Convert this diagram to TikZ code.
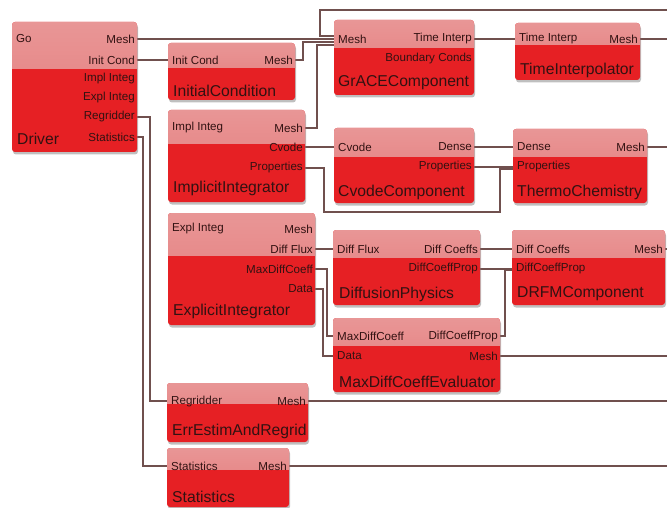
\documentclass[tikz,border=0pt]{standalone}
\usepackage{fontspec}
\setmainfont{Liberation Sans}
\usepackage{xcolor}
\usepackage{tikz}
\usetikzlibrary{positioning,shadows,backgrounds}

\definecolor{boxred}{RGB}{230,32,36}
\definecolor{pinktop}{RGB}{232,150,150}
\definecolor{pinkmid}{RGB}{246,204,204}
\definecolor{pinkbot}{RGB}{230,120,120}
\definecolor{ink}{RGB}{50,18,18}
\definecolor{wirecol}{RGB}{112,80,78}

\begin{document}
\begin{tikzpicture}[x=1pt, y=-1pt,
  box/.style={anchor=north west, inner sep=0pt, outer sep=0pt, fill=boxred, rounded corners=3pt,
    drop shadow={shadow xshift=1pt, shadow yshift=-2.5pt, opacity=0.5},
    path picture={\shade[sharp corners, top color=pinktop, middle color=pinkmid, bottom color=pinkbot]
      (path picture bounding box.north west) rectangle ([yshift=-#1]path picture bounding box.north east);}},
  port/.style={font=\fontsize{11.6}{13}\selectfont, text=ink, inner sep=2pt},
  portl/.style={port, anchor=west},
  portr/.style={port, anchor=east},
  title/.style={font=\fontsize{15.7}{18}\selectfont, text=ink, anchor=west, inner sep=0pt},
  wire/.style={draw=wirecol, line width=1.3pt}]
\useasboundingbox (0,0) rectangle (667,508);

% components
\node[box=47pt, minimum width=125pt, minimum height=130pt] (drv) at (12,22) {};
\node[box=25pt, minimum width=127pt, minimum height=57pt] (ic) at (168,43) {};
\node[box=34pt, minimum width=137pt, minimum height=92pt] (ii) at (168,110) {};
\node[box=28pt, minimum width=140pt, minimum height=75pt] (grace) at (334,20) {};
\node[box=22pt, minimum width=125pt, minimum height=57pt] (ti) at (515,23) {};
\node[box=29pt, minimum width=140pt, minimum height=75pt] (cc) at (334,128) {};
\node[box=28pt, minimum width=134pt, minimum height=74pt] (tc) at (513,129) {};
\node[box=42pt, minimum width=147pt, minimum height=112pt] (ei) at (168,213) {};
\node[box=27pt, minimum width=147pt, minimum height=75pt] (dp) at (333,230) {};
\node[box=27pt, minimum width=167pt, minimum height=74pt] (mde) at (333,318) {};
\node[box=27pt, minimum width=153pt, minimum height=75pt] (drfm) at (512,230) {};
\node[box=20pt, minimum width=141pt, minimum height=59pt] (ee) at (167,383) {};
\node[box=21pt, minimum width=122pt, minimum height=59pt] (st) at (167,448) {};

% Driver
\node[portl] (drv-go) at (14,39) {Go};
\node[portr] (drv-mesh) at (137,39) {Mesh};
\node[portr] (drv-ic) at (137,60) {Init Cond};
\node[portr] (drv-ii) at (137,79) {Impl Integ};
\node[portr] (drv-ei) at (137,98) {Expl Integ};
\node[portr] (drv-regr) at (137,117) {Regridder};
\node[portr] (drv-stat) at (137,137) {Statistics};
\node[title] (drv-t) at (17,139) {Driver};

% InitialCondition
\node[portl] (ic-ic) at (170,60) {Init Cond};
\node[portr] (ic-mesh) at (295,60) {Mesh};
\node[title] (ic-t) at (173,91) {InitialCondition};

% ImplicitIntegrator
\node[portl] (ii-ii) at (170,128) {Impl Integ};
\node[portr] (ii-mesh) at (305,128) {Mesh};
\node[portr] (ii-cvode) at (305,147) {Cvode};
\node[portr] (ii-prop) at (305,168) {Properties};
\node[title] (ii-t) at (173,188) {ImplicitIntegrator};

% GrACEComponent
\node[portl] (grace-mesh) at (336,39) {Mesh};
\node[portr] (grace-ti) at (474,39) {Time Interp};
\node[portr] (grace-bc) at (474,59) {Boundary Conds};
\node[title] (grace-t) at (338,83) {GrACEComponent};

% TimeInterpolator
\node[portl] (ti-ti) at (517,39) {Time Interp};
\node[portr] (ti-mesh) at (640,39) {Mesh};
\node[title] (ti-t) at (520,70) {TimeInterpolator};

% CvodeComponent
\node[portl] (cc-cvode) at (336,147) {Cvode};
\node[portr] (cc-dense) at (474,147) {Dense};
\node[portr] (cc-prop) at (474,167) {Properties};
\node[title] (cc-t) at (338,192) {CvodeComponent};

% ThermoChemistry
\node[portl] (tc-dense) at (515,147) {Dense};
\node[portr] (tc-mesh) at (647,147) {Mesh};
\node[portl] (tc-prop) at (515,167) {Properties};
\node[title] (tc-t) at (517,192) {ThermoChemistry};

% ExplicitIntegrator
\node[portl] (ei-ei) at (170,229) {Expl Integ};
\node[portr] (ei-mesh) at (315,229) {Mesh};
\node[portr] (ei-flux) at (315,249) {Diff Flux};
\node[portr] (ei-maxd) at (315,269) {MaxDiffCoeff};
\node[portr] (ei-data) at (315,289) {Data};
\node[title] (ei-t) at (173,311) {ExplicitIntegrator};

% DiffusionPhysics
\node[portl] (dp-flux) at (335,249) {Diff Flux};
\node[portr] (dp-dcoef) at (480,249) {Diff Coeffs};
\node[portr] (dp-dcp) at (480,269) {DiffCoeffProp};
\node[title] (dp-t) at (339,294) {DiffusionPhysics};

% MaxDiffCoeffEvaluator
\node[portl] (mde-maxd) at (335,336) {MaxDiffCoeff};
\node[portr] (mde-dcp) at (500,336) {DiffCoeffProp};
\node[portl] (mde-data) at (335,356) {Data};
\node[portr] (mde-mesh) at (500,356) {Mesh};
\node[title] (mde-t) at (339,382) {MaxDiffCoeffEvaluator};

% DRFMComponent
\node[portl] (drfm-dcoef) at (514,249) {Diff Coeffs};
\node[portr] (drfm-mesh) at (665,249) {Mesh};
\node[portl] (drfm-dcp) at (514,269) {DiffCoeffProp};
\node[title] (drfm-t) at (517,294) {DRFMComponent};

% ErrEstimAndRegrid
\node[portl] (ee-regr) at (169,401) {Regridder};
\node[portr] (ee-mesh) at (308,401) {Mesh};
\node[title] (ee-t) at (172,431) {ErrEstimAndRegrid};

% Statistics
\node[portl] (st-stat) at (169,466) {Statistics};
\node[portr] (st-mesh) at (289,466) {Mesh};
\node[title] (st-t) at (172,497) {Statistics};

\coordinate (edge) at (667,0);
\coordinate (topbus) at (667,10);
\coordinate (lowbus) at (324,212);

% wires
\begin{scope}[on background layer]
\draw[wire] (drv-mesh.east) -- (grace-mesh.west);
\draw[wire] (topbus) -| ([xshift=-16pt,yshift=3pt]grace-mesh.west) -- ([yshift=3pt]grace-mesh.west);
\draw[wire] (ic-mesh.east) -| ([xshift=-33pt,yshift=-3pt]grace-mesh.west) -- ([yshift=-3pt]grace-mesh.west);
\draw[wire] (ii-mesh.east) -| ([xshift=-19pt,yshift=-6pt]grace-mesh.west) -- ([yshift=-6pt]grace-mesh.west);
\draw[wire] (drv-ic.east) -- (ic-ic.west);
\draw[wire] (drv-regr.east) -| ([xshift=-19pt]ee-regr.west) -- (ee-regr.west);
\draw[wire] (drv-stat.east) -| ([xshift=-26pt]st-stat.west) -- (st-stat.west);
\draw[wire] (ii-cvode.east) -- (cc-cvode.west);
\draw[wire] (ii-prop.east) -| (lowbus) -| ([xshift=-15pt,yshift=-2pt]tc-prop.west) -- ([yshift=-2pt]tc-prop.west);
\draw[wire] (cc-dense.east) -- (tc-dense.west);
\draw[wire] (cc-prop.east) -- (tc-prop.west);
\draw[wire] (grace-ti.east) -- (ti-ti.west);
\draw[wire] (ei-flux.east) -- (dp-flux.west);
\draw[wire] (ei-maxd.east) -| ([xshift=-8pt]mde-maxd.west) -- (mde-maxd.west);
\draw[wire] (ei-data.east) -| ([xshift=-12pt]mde-data.west) -- (mde-data.west);
\draw[wire] (dp-dcoef.east) -- (drfm-dcoef.west);
\draw[wire] (dp-dcp.east) -- (drfm-dcp.west);
\draw[wire] (mde-dcp.east) -| ([xshift=-9pt,yshift=-1.5pt]drfm-dcp.west) -- ([yshift=-1.5pt]drfm-dcp.west);
\draw[wire] (ti-mesh.east) -- (ti-mesh.east -| edge);
\draw[wire] (tc-mesh.east) -- (tc-mesh.east -| edge);
\draw[wire] (drfm-mesh.east) -- (drfm-mesh.east -| edge);
\draw[wire] (mde-mesh.east) -- (mde-mesh.east -| edge);
\draw[wire] (ee-mesh.east) -- (ee-mesh.east -| edge);
\draw[wire] (st-mesh.east) -- (st-mesh.east -| edge);
\end{scope}
\end{tikzpicture}
\end{document}
